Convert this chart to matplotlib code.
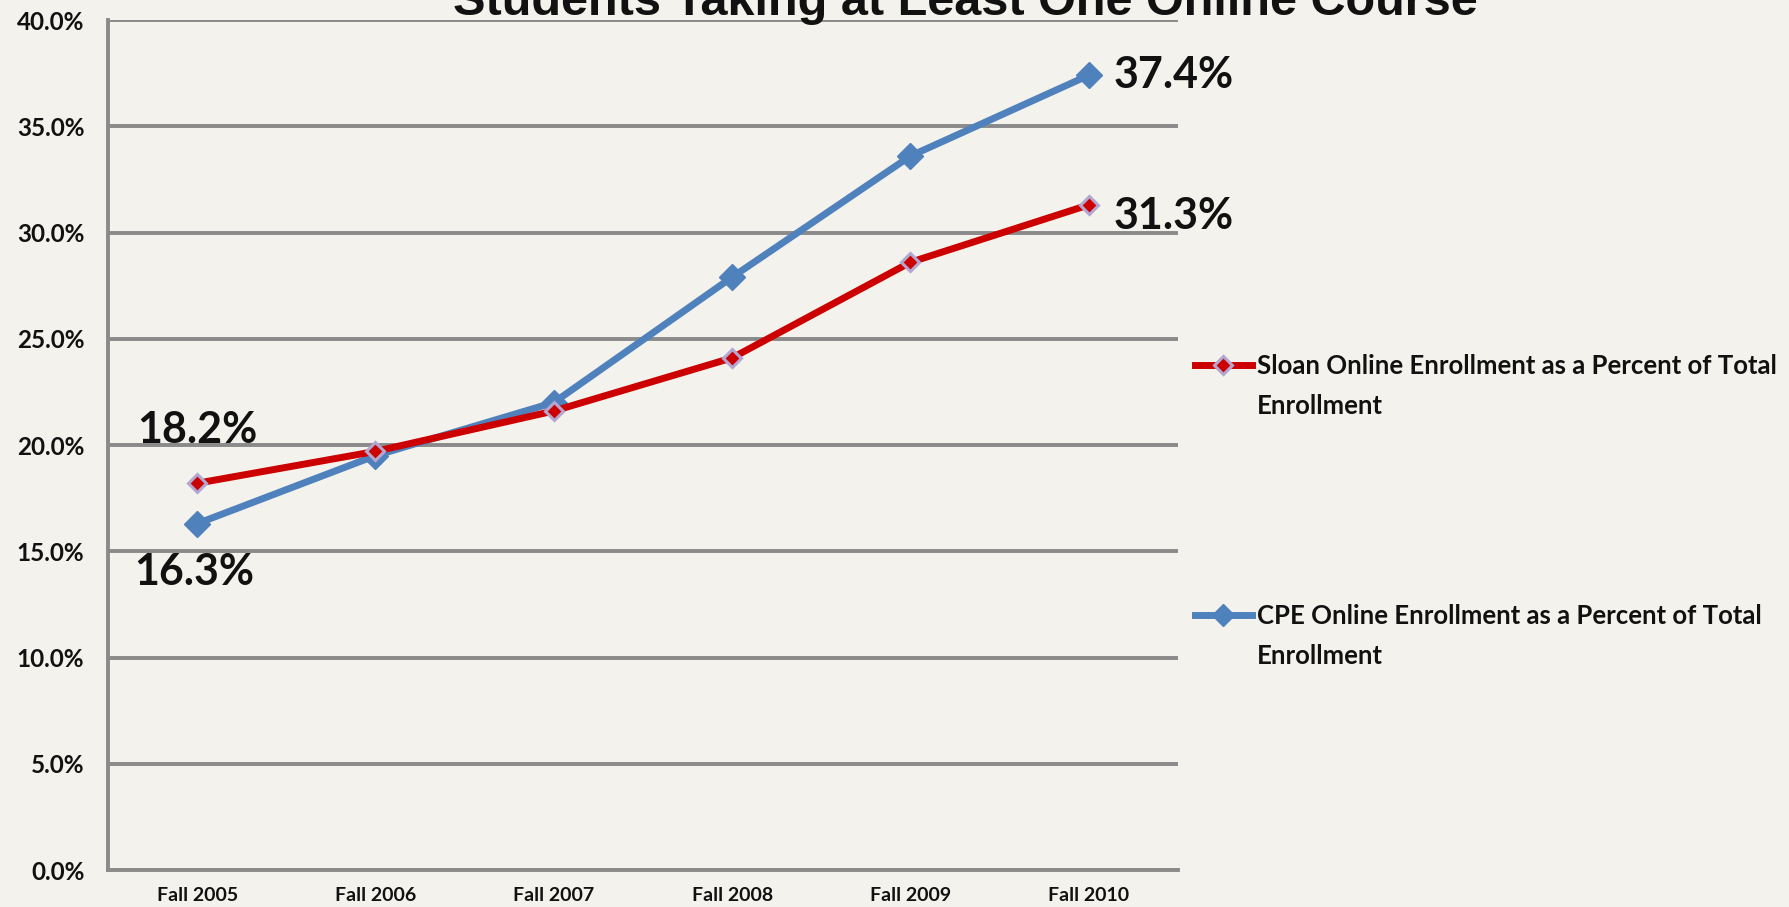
import matplotlib
matplotlib.use("Agg")
import matplotlib.pyplot as plt
from matplotlib.lines import Line2D
from matplotlib.ticker import FuncFormatter, MultipleLocator

# ---- data ----
categories = ["Fall 2005", "Fall 2006", "Fall 2007", "Fall 2008", "Fall 2009", "Fall 2010"]
sloan = [18.2, 19.7, 21.6, 24.1, 28.6, 31.3]
cpe = [16.3, 19.5, 22.0, 27.9, 33.6, 37.4]
sloan_label = ["Sloan Online Enrollment as a Percent of Total", "Enrollment"]
cpe_label = ["CPE Online Enrollment as a Percent of Total", "Enrollment"]
title = "Students Taking at Least One Online Course"

BG = "#F3F2EC"
RED = "#CC0000"
BLUE = "#4F81BD"
GRID = "#8A8A8A"
FONT = ["Lato", "DejaVu Sans"]

fig = plt.figure(figsize=(17.9, 9.07), dpi=100, facecolor=BG)
ax = fig.add_axes([108 / 1790, 1 - 870 / 907, (1178 - 108) / 1790, (870 - 20) / 907])
ax.set_facecolor(BG)

x = list(range(len(categories)))
ax.plot(x, sloan, color=RED, lw=5, marker="D", ms=9, mfc=RED, mec="#B3A6D0", mew=2.2,
        zorder=4, solid_capstyle="round")
ax.plot(x, cpe, color=BLUE, lw=5, marker="D", ms=13, mfc=BLUE, mec=BLUE, mew=1,
        zorder=3, solid_capstyle="round")

ax.set_xlim(-0.5, len(categories) - 0.5)
ax.set_ylim(0, 40)
ax.yaxis.set_major_locator(MultipleLocator(5))
ax.yaxis.set_major_formatter(FuncFormatter(lambda v, p: f"{v:.1f}%"))
ax.set_xticks(x)
ax.set_xticklabels(categories)
ax.grid(axis="y", color=GRID, lw=2.8, zorder=1)
ax.set_axisbelow(True)
for s in ["top", "right"]:
    ax.spines[s].set_visible(False)
ax.spines["left"].set_color(GRID)
ax.spines["left"].set_linewidth(2.8)
ax.spines["bottom"].set_color(GRID)
ax.spines["bottom"].set_linewidth(2.8)
ax.tick_params(axis="both", length=0)
ax.tick_params(axis="y", pad=17)
ax.tick_params(axis="x", pad=12)
for lab in ax.get_yticklabels():
    lab.set_family(FONT); lab.set_fontsize(17.5); lab.set_fontweight("bold"); lab.set_color("#111111")
for lab in ax.get_xticklabels():
    lab.set_family(FONT); lab.set_fontsize(14); lab.set_fontweight("bold"); lab.set_color("#111111")

# data labels
lab_kw = dict(family=FONT, fontsize=31, fontweight="bold", color="#111111")
ax.annotate(f"{cpe[-1]:.1f}%", (x[-1], cpe[-1]), xytext=(18, 0), textcoords="offset points",
            ha="left", va="center", **lab_kw)
ax.annotate(f"{sloan[-1]:.1f}%", (x[-1], sloan[-1]), xytext=(18, -8), textcoords="offset points",
            ha="left", va="center", **lab_kw)
ax.annotate(f"{sloan[0]:.1f}%", (x[0], sloan[0]), xytext=(0, 38), textcoords="offset points",
            ha="center", va="center", **lab_kw)
ax.annotate(f"{cpe[0]:.1f}%", (x[0], cpe[0]), xytext=(-2, -35), textcoords="offset points",
            ha="center", va="center", **lab_kw)

# title (partly cut at top as in reference)
fig.text(965 / 1790, 1 - 15 / 907, title, ha="center", va="baseline",
         family=["Liberation Sans", "DejaVu Sans"], fontsize=35, fontweight="bold",
         color="#111111")

# legends
blank = Line2D([], [], linestyle="none")
h_sloan = Line2D([], [], color=RED, lw=5, marker="D", ms=9, mfc=RED, mec="#B3A6D0", mew=2.2)
h_cpe = Line2D([], [], color=BLUE, lw=5, marker="D", ms=11, mfc=BLUE, mec=BLUE)
leg_kw = dict(loc="upper left", frameon=False, borderpad=0, borderaxespad=0,
              handlelength=2.2, handletextpad=0.2, labelspacing=0.62,
              prop=dict(family=FONT, size=18.5, weight="bold"), labelcolor="#111111")
leg1 = fig.legend([h_sloan, blank], sloan_label, bbox_to_anchor=(1195 / 1790, 1 - 354 / 907), **leg_kw)
leg2 = fig.legend([h_cpe, blank], cpe_label, bbox_to_anchor=(1195 / 1790, 1 - 604 / 907), **leg_kw)

fig.savefig("out.png", dpi=100, facecolor=BG)
